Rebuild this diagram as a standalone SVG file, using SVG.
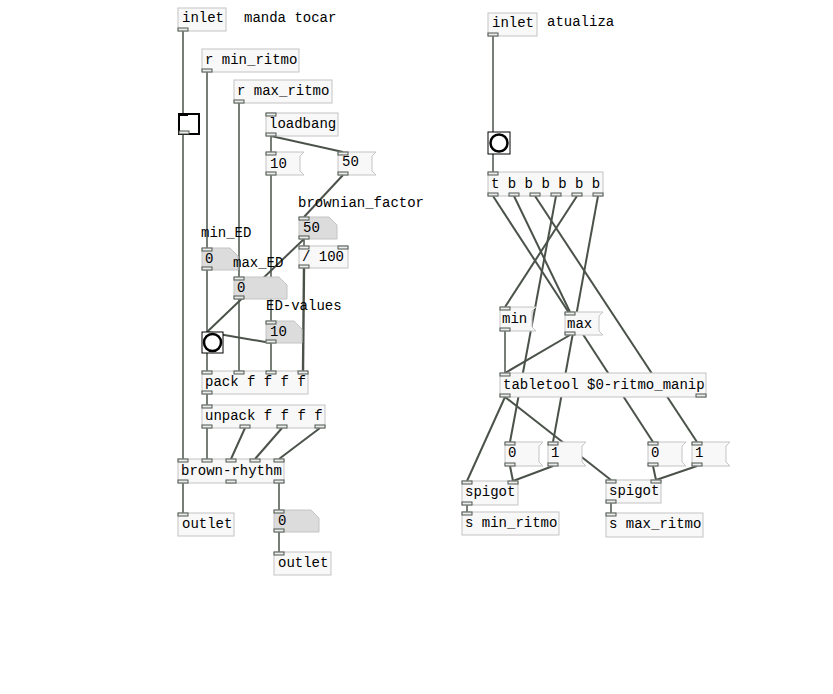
<svg xmlns="http://www.w3.org/2000/svg" width="833" height="694" viewBox="0 0 833 694">
<style>
.b{fill:#f8f8f8;stroke:#c4c4c4;stroke-width:1}
.n{fill:#dcdcdc;stroke:#c4c4c4;stroke-width:1}
.io{fill:#ececec;stroke:#4e564e;stroke-width:1}
.t{font-family:"Liberation Mono","Courier New",monospace;font-size:14px;fill:#000}
.c{stroke:#4a524a;stroke-width:1.5;fill:none}
.d{stroke:#4a524a;stroke-width:2;fill:none}
.k{stroke:#4a524a;stroke-width:2.4;fill:none}
.bg{fill:#fff;stroke:#000;stroke-width:1}
.ci{fill:none;stroke:#000;stroke-width:2.5}
</style>
<rect width="833" height="694" fill="#fff"/>
<g id="connectors">
<line class="c" x1="183" y1="31" x2="183" y2="113"/>
<line class="c" x1="183" y1="135" x2="183" y2="459"/>
<line class="c" x1="207" y1="72" x2="207" y2="248"/>
<line class="c" x1="207" y1="270" x2="207" y2="332"/>
<line class="c" x1="239" y1="103" x2="239" y2="277"/>
<line class="c" x1="239" y1="299" x2="239" y2="371"/>
<line class="c" x1="271" y1="136" x2="271" y2="152"/>
<line class="d" x1="271" y1="136" x2="343" y2="152"/>
<line class="c" x1="271" y1="175" x2="271" y2="321"/>
<line class="d" x1="343" y1="175" x2="304" y2="217"/>
<line class="d" x1="304" y1="239" x2="207" y2="332"/>
<line class="c" x1="304" y1="239" x2="304" y2="246"/>
<line class="k" x1="304" y1="268" x2="303" y2="371"/>
<line class="d" x1="271" y1="343" x2="207" y2="332"/>
<line class="c" x1="271" y1="343" x2="271" y2="371"/>
<line class="c" x1="207" y1="353" x2="207" y2="371"/>
<line class="c" x1="207" y1="394" x2="207" y2="405"/>
<line class="c" x1="207" y1="428" x2="207" y2="459"/>
<line class="d" x1="245" y1="428" x2="231" y2="459"/>
<line class="d" x1="282" y1="428" x2="255" y2="459"/>
<line class="d" x1="320" y1="428" x2="279" y2="459"/>
<line class="c" x1="183" y1="483" x2="183" y2="513"/>
<line class="c" x1="279" y1="483" x2="279" y2="510"/>
<line class="c" x1="279" y1="532" x2="279" y2="552"/>
<line class="c" x1="493" y1="36" x2="493" y2="132"/>
<line class="c" x1="493" y1="154" x2="493" y2="172"/>
<line class="d" x1="493" y1="196" x2="653" y2="442"/>
<line class="d" x1="514" y1="196" x2="570" y2="312"/>
<line class="d" x1="535" y1="196" x2="697" y2="442"/>
<line class="d" x1="556" y1="196" x2="510" y2="442"/>
<line class="d" x1="577" y1="196" x2="505" y2="307"/>
<line class="d" x1="598" y1="196" x2="553" y2="442"/>
<line class="c" x1="505" y1="331" x2="505" y2="373"/>
<line class="d" x1="570" y1="335" x2="505" y2="373"/>
<line class="d" x1="505" y1="397" x2="467" y2="481"/>
<line class="d" x1="505" y1="397" x2="611" y2="480"/>
<line class="d" x1="510" y1="466" x2="513" y2="481"/>
<line class="d" x1="553" y1="466" x2="513" y2="481"/>
<line class="d" x1="653" y1="466" x2="656" y2="480"/>
<line class="d" x1="697" y1="466" x2="656" y2="480"/>
<line class="c" x1="467" y1="505" x2="467" y2="512"/>
<line class="c" x1="611" y1="503" x2="611" y2="513"/>
</g>

<g id="inlet1"><rect class="b" x="178" y="8" width="48" height="23"/><rect class="io" x="178" y="28" width="10" height="3"/><text class="t" x="182" y="22">inlet</text></g>
<g id="comment-manda"><text class="t" x="244" y="22">manda tocar</text></g>
<g id="r-min"><rect class="b" x="202" y="49" width="97" height="23"/><rect class="io" x="202" y="69" width="10" height="3"/><text class="t" x="205" y="64">r min_ritmo</text></g>
<g id="r-max"><rect class="b" x="234" y="80" width="98" height="23"/><rect class="io" x="234" y="100" width="10" height="3"/><text class="t" x="237" y="95">r max_ritmo</text></g>
<g id="loadbang"><rect class="b" x="266" y="113" width="72" height="23"/><rect class="io" x="266" y="113" width="10" height="3"/><rect class="io" x="266" y="133" width="10" height="3"/><text class="t" x="269" y="128">loadbang</text></g>
<g id="toggle"><rect x="179" y="114" width="20" height="20" fill="#fff" stroke="#000" stroke-width="2"/><rect x="178" y="113" width="10" height="3" fill="#000"/><rect x="179" y="131" width="10" height="3" fill="#ececec" stroke="#4e564e" stroke-width="1"/></g>
<g id="msg10"><path class="b" d="M266 152H304L300 156V171L304 175H266Z"/><rect class="io" x="266" y="152" width="10" height="3"/><rect class="io" x="266" y="172" width="10" height="3"/><text class="t" x="270" y="168">10</text></g>
<g id="msg50"><path class="b" d="M338 152H376L372 156V171L376 175H338Z"/><rect class="io" x="338" y="152" width="10" height="3"/><rect class="io" x="338" y="172" width="10" height="3"/><text class="t" x="342" y="166">50</text></g>
<g id="comment-brownian"><text class="t" x="298" y="207">brownian_factor</text></g>
<g id="nbx50"><path class="n" d="M299 217H329L337 225V239H299Z"/><rect class="io" x="299" y="217" width="10" height="3"/><rect class="io" x="299" y="236" width="10" height="3"/><text class="t" x="303" y="232">50</text></g>
<g id="div100"><rect class="b" x="299" y="246" width="49" height="22"/><rect class="io" x="299" y="246" width="10" height="3"/><rect class="io" x="338" y="246" width="10" height="3"/><rect class="io" x="299" y="265" width="10" height="3"/><text class="t" x="302" y="261">/ 100</text></g>
<g id="comment-minED"><text class="t" x="201" y="237">min_ED</text></g>
<g id="nbxMin"><path class="n" d="M202 248H230L238 256V270H202Z"/><rect class="io" x="202" y="248" width="10" height="3"/><rect class="io" x="202" y="267" width="10" height="3"/><text class="t" x="205" y="263">0</text></g>
<g id="comment-maxED"><text class="t" x="233" y="267">max_ED</text></g>
<g id="nbxMax"><path class="n" d="M234 277H279L287 285V299H234Z"/><rect class="io" x="234" y="277" width="10" height="3"/><rect class="io" x="234" y="296" width="10" height="3"/><text class="t" x="237" y="292">0</text></g>
<g id="comment-EDvalues"><text class="t" x="266" y="310">ED-values</text></g>
<g id="nbx10"><path class="n" d="M266 321H294L302 329V343H266Z"/><rect class="io" x="266" y="321" width="10" height="3"/><rect class="io" x="266" y="340" width="10" height="3"/><text class="t" x="270" y="336">10</text></g>
<g id="bang1"><rect class="bg" x="202" y="332" width="21" height="21"/><circle class="ci" cx="212.5" cy="342.5" r="8.5"/></g>
<g id="pack"><rect class="b" x="202" y="371" width="106" height="23"/><rect class="io" x="202" y="371" width="10" height="3"/><rect class="io" x="234" y="371" width="10" height="3"/><rect class="io" x="266" y="371" width="10" height="3"/><rect class="io" x="298" y="371" width="10" height="3"/><rect class="io" x="202" y="391" width="10" height="3"/><text class="t" x="205" y="386">pack f f f f</text></g>
<g id="unpack"><rect class="b" x="202" y="405" width="123" height="23"/><rect class="io" x="202" y="405" width="10" height="3"/><rect class="io" x="202" y="425" width="10" height="3"/><rect class="io" x="240" y="425" width="10" height="3"/><rect class="io" x="277" y="425" width="10" height="3"/><rect class="io" x="315" y="425" width="10" height="3"/><text class="t" x="205" y="420">unpack f f f f</text></g>
<g id="brown-rhythm"><rect class="b" x="178" y="459" width="106" height="24"/><rect class="io" x="178" y="459" width="10" height="3"/><rect class="io" x="202" y="459" width="10" height="3"/><rect class="io" x="226" y="459" width="10" height="3"/><rect class="io" x="250" y="459" width="10" height="3"/><rect class="io" x="274" y="459" width="10" height="3"/><rect class="io" x="178" y="480" width="10" height="3"/><rect class="io" x="226" y="480" width="10" height="3"/><rect class="io" x="274" y="480" width="10" height="3"/><text class="t" x="181" y="475">brown-rhythm</text></g>
<g id="outlet1"><rect class="b" x="178" y="513" width="56" height="23"/><rect class="io" x="178" y="513" width="10" height="3"/><text class="t" x="182" y="528">outlet</text></g>
<g id="nbx0"><path class="n" d="M274 510H311L319 518V532H274Z"/><rect class="io" x="274" y="510" width="10" height="3"/><rect class="io" x="274" y="529" width="10" height="3"/><text class="t" x="278" y="525">0</text></g>
<g id="outlet2"><rect class="b" x="274" y="552" width="57" height="23"/><rect class="io" x="274" y="552" width="10" height="3"/><text class="t" x="278" y="567">outlet</text></g>

<g id="inlet2"><rect class="b" x="488" y="13" width="49" height="23"/><rect class="io" x="488" y="33" width="10" height="3"/><text class="t" x="492" y="27">inlet</text></g>
<g id="comment-atualiza"><text class="t" x="547" y="26">atualiza</text></g>
<g id="bang2"><rect class="bg" x="488" y="132" width="22" height="22"/><circle class="ci" cx="499" cy="143" r="8.5"/></g>
<g id="trigger"><rect class="b" x="488" y="172" width="115" height="24"/><rect class="io" x="488" y="172" width="10" height="3"/><rect class="io" x="488" y="193" width="10" height="3"/><rect class="io" x="509" y="193" width="10" height="3"/><rect class="io" x="530" y="193" width="10" height="3"/><rect class="io" x="551" y="193" width="10" height="3"/><rect class="io" x="572" y="193" width="10" height="3"/><rect class="io" x="593" y="193" width="10" height="3"/><text class="t" x="491" y="188">t b b b b b b</text></g>
<g id="msg-min"><path class="b" d="M500 307H536L532 311V327L536 331H500Z"/><rect class="io" x="500" y="307" width="10" height="3"/><rect class="io" x="500" y="328" width="10" height="3"/><text class="t" x="502" y="323">min</text></g>
<g id="msg-max"><path class="b" d="M565 312H603L599 316V331L603 335H565Z"/><rect class="io" x="565" y="312" width="10" height="3"/><rect class="io" x="565" y="332" width="10" height="3"/><text class="t" x="567" y="328">max</text></g>
<g id="tabletool"><rect class="b" x="500" y="373" width="206" height="24"/><rect class="io" x="500" y="373" width="10" height="3"/><rect class="io" x="500" y="394" width="10" height="3"/><rect class="io" x="696" y="394" width="10" height="3"/><text class="t" x="503" y="389">tabletool $0-ritmo_manip</text></g>
<g id="msg0L"><path class="b" d="M505 442H543L539 446V462L543 466H505Z"/><rect class="io" x="505" y="442" width="10" height="3"/><rect class="io" x="505" y="463" width="10" height="3"/><text class="t" x="508" y="457">0</text></g>
<g id="msg1L"><path class="b" d="M548 442H586L582 446V462L586 466H548Z"/><rect class="io" x="548" y="442" width="10" height="3"/><rect class="io" x="548" y="463" width="10" height="3"/><text class="t" x="551" y="457">1</text></g>
<g id="msg0R"><path class="b" d="M648 442H686L682 446V462L686 466H648Z"/><rect class="io" x="648" y="442" width="10" height="3"/><rect class="io" x="648" y="463" width="10" height="3"/><text class="t" x="651" y="457">0</text></g>
<g id="msg1R"><path class="b" d="M692 442H730L726 446V462L730 466H692Z"/><rect class="io" x="692" y="442" width="10" height="3"/><rect class="io" x="692" y="463" width="10" height="3"/><text class="t" x="695" y="457">1</text></g>
<g id="spigotL"><rect class="b" x="462" y="481" width="56" height="24"/><rect class="io" x="462" y="481" width="10" height="3"/><rect class="io" x="508" y="481" width="10" height="3"/><rect class="io" x="462" y="502" width="10" height="3"/><text class="t" x="465" y="496">spigot</text></g>
<g id="s-min"><rect class="b" x="462" y="512" width="97" height="23"/><rect class="io" x="462" y="512" width="10" height="3"/><text class="t" x="465" y="527">s min_ritmo</text></g>
<g id="spigotR"><rect class="b" x="606" y="480" width="55" height="23"/><rect class="io" x="606" y="480" width="10" height="3"/><rect class="io" x="651" y="480" width="10" height="3"/><rect class="io" x="606" y="500" width="10" height="3"/><text class="t" x="609" y="495">spigot</text></g>
<g id="s-max"><rect class="b" x="606" y="513" width="97" height="24"/><rect class="io" x="606" y="513" width="10" height="3"/><text class="t" x="609" y="528">s max_ritmo</text></g>
</svg>
